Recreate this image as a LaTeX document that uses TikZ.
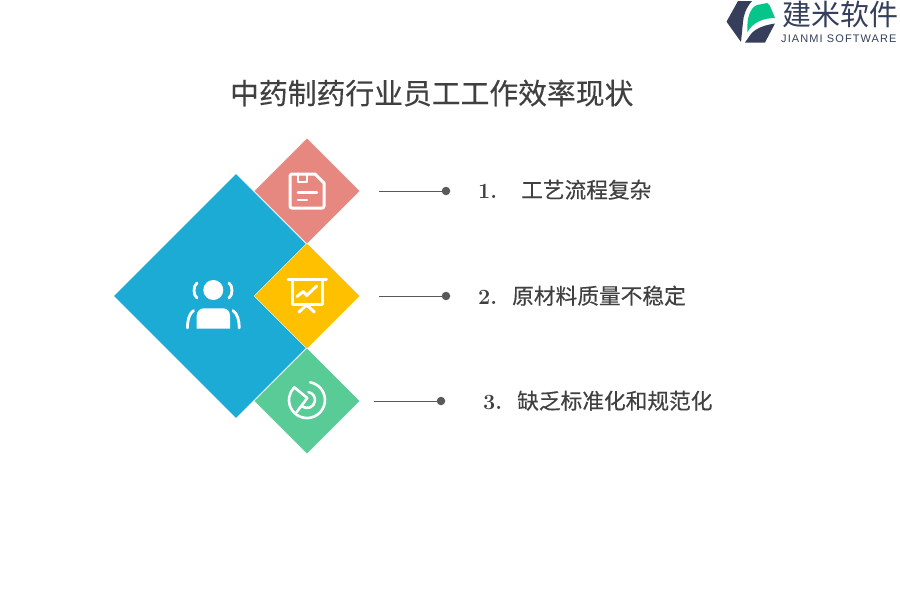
\documentclass[tikz,border=0pt]{standalone}
\usepackage{fontspec}
\usetikzlibrary{shapes.geometric}
\newfontfamily\cjk{Noto Sans CJK SC}
\newfontfamily\cjkh[FakeBold=0.35]{Noto Sans CJK SC}
\newfontfamily\lat{Liberation Sans}
\definecolor{blueD}{HTML}{1CABD5}
\definecolor{pinkD}{HTML}{E68880}
\definecolor{yellowD}{HTML}{FFC000}
\definecolor{greenD}{HTML}{58CB97}
\definecolor{ink}{HTML}{404040}
\definecolor{lineC}{HTML}{595959}
\definecolor{navy}{HTML}{353F5C}
\definecolor{logoG}{HTML}{05C58A}
\tikzset{
  dia/.style={diamond,aspect=1,inner sep=0pt,minimum width=#1,minimum height=#1},
  dot/.style={circle,fill=lineC,inner sep=0pt,minimum size=8.5pt},
  lead/.style={lineC,line width=1pt},
  item/.style={anchor=base west,text=ink,inner sep=0pt,font=\fontsize{21.7}{21.7}\selectfont},
  icon/.style={white,line width=3pt,line cap=round,line join=round},
}
\begin{document}
\begin{tikzpicture}[x=1pt,y=-1pt]
\useasboundingbox (0,0) rectangle (900,600);
% logo
\fill[navy] (738,1) -- (752,1) .. controls (746,8) and (743.5,15) .. (743,22) -- (741,42) -- (726.5,21.7) -- cycle;
\fill[navy] (745,42.5) -- (751,34) .. controls (756,28) and (765,25) .. (775,23.5) -- (765,42.5) -- cycle;
\fill[logoG] (747.5,32) .. controls (746.5,18) and (750,8) .. (757,5) -- (767,3) -- (770,6) -- (775,18) .. controls (764,18) and (753,22) .. (747.5,32) -- cycle;
\node[anchor=base west,inner sep=0pt,text=navy,font=\cjk\fontsize{29}{29}\selectfont] (logotext) at (782,25) {建米软件};
\node[anchor=base west,inner sep=0pt,text=navy,font=\lat\fontsize{11}{11}\selectfont] (logosub) at (781,42.5) {\addfontfeature{LetterSpace=10}JIANMI SOFTWARE};
% title
\node[anchor=base west,inner sep=0pt,text=ink,font=\cjkh\fontsize{28.8}{28.8}\selectfont] (title) at (230,104) {中药制药行业员工工作效率现状};
% diamonds
\node[dia=244pt,fill=blueD] (big) at (236,296) {};
\node[dia=106pt,fill=pinkD,draw=white,line width=.4pt] (pink) at (307,191) {};
\node[dia=106pt,fill=yellowD,draw=white,line width=.4pt] (yellow) at (307,296) {};
\node[dia=106pt,fill=greenD,draw=white,line width=.4pt] (green) at (307,401) {};
% connectors
\coordinate (s1) at (379,191); \node[dot] (d1) at (446,191) {};
\coordinate (s2) at (379,296); \node[dot] (d2) at (446,296) {};
\coordinate (s3) at (374,401); \node[dot] (d3) at (441,401) {};
\draw[lead] (s1) -- (d1);
\draw[lead] (s2) -- (d2);
\draw[lead] (s3) -- (d3);
% items
\node[item] (n1) at (478,198) {\bfseries 1.};
\node[item] (t1) at (521,198) {\cjkh 工艺流程复杂};
\node[item] (n2) at (478,304) {\bfseries 2.};
\node[item] (t2) at (512,304) {\cjkh 原材料质量不稳定};
\node[item] (n3) at (483,409) {\bfseries 3.};
\node[item] (t3) at (517,409) {\cjkh 缺乏标准化和规范化};
% floppy icon
\draw[icon] (292,174) -- (315,174) -- (324,183) -- (324,206) .. controls (324,207.5) and (323,208) .. (322,208) -- (292,208) .. controls (291,208) and (290,207.5) .. (290,206) -- (290,176) .. controls (290,175) and (291,174) .. (292,174) -- cycle;
\draw[icon,line width=2.6pt] (298,174) -- (298,182) -- (307,182) -- (307,174);
\draw[icon,line width=2.6pt] (298,192.3) -- (317,192.3);
\draw[icon,line width=2.6pt] (298,200) -- (307,200);
% presentation icon
\draw[icon] (288,279) -- (326.5,279);
\draw[icon,line cap=butt] (292.5,279) -- (292.5,304) -- (322,304) -- (322,279);
\draw[icon] (297,296.5) -- (303.3,291.5) -- (306.7,295.5) -- (316.7,286);
\draw[icon] (306.7,305) -- (299,312) (306.7,305) -- (314.3,312);
% person icon
\fill[white] (213.3,290) circle (10pt);
\fill[white] (196.7,328.5) -- (196.7,316) .. controls (196.7,311) and (200,308.3) .. (204,308.3) -- (223,308.3) .. controls (227,308.3) and (230,311) .. (230,316) -- (230,328.5) -- cycle;
\draw[icon,line width=2.8pt] (197,283) .. controls (193,286) and (193,295) .. (197,298);
\draw[icon,line width=2.8pt] (229,283) .. controls (233,286) and (233,295) .. (229,298);
\draw[icon,line width=2.8pt] (193.5,310.5) .. controls (189,314) and (187.5,320) .. (187.5,328);
\draw[icon,line width=2.8pt] (233,310.5) .. controls (237.5,314) and (239.2,320) .. (239.2,328);
% chart icon
\draw[icon,line width=2.6pt] (310.1,382.3) arc (80:-225:18pt) -- (307.3,398) -- (296.7,412);
\draw[icon,line width=2.6pt] (308.4,392.1) arc (80:-125:8pt);
\end{tikzpicture}
\end{document}
